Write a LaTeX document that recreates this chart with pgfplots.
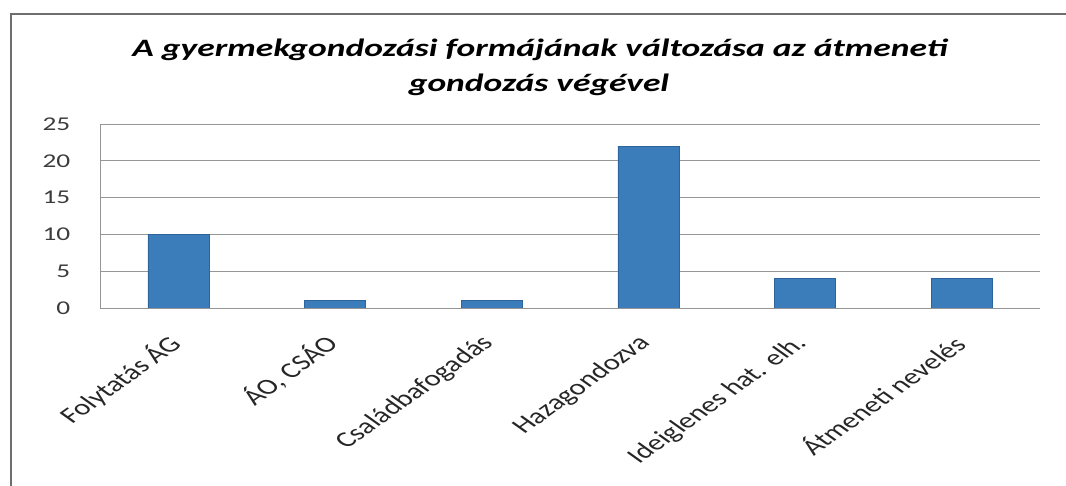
\documentclass[border=0pt]{standalone}
\usepackage{fontspec}
\setmainfont{Carlito}
\usepackage{pgfplots}
\pgfplotsset{compat=1.18}
\definecolor{barblue}{RGB}{58,125,186}
\definecolor{baredge}{RGB}{45,100,155}
\definecolor{gridgray}{RGB}{150,150,150}
\definecolor{framegray}{RGB}{110,110,110}
\definecolor{ticktext}{RGB}{60,60,60}
\begin{document}
\begin{tikzpicture}[x=1pt,y=1pt]
\path[use as bounding box] (0,0) rectangle (1066,486);
\draw[framegray, line width=1.3pt] (11,0) -- (11,472) -- (1066,472);
\node[anchor=base, xscale=1.42, font=\fontsize{25}{25}\selectfont\bfseries\itshape] at (540,429) {A gyermekgondozási formájának változása az átmeneti};
\node[anchor=base, xscale=1.42, font=\fontsize{25}{25}\selectfont\bfseries\itshape] at (539,394) {gondozás végével};
\begin{axis}[
  at={(100pt,178pt)}, anchor=south west,
  scale only axis, width=940pt, height=184pt,
  xmin=-0.5, xmax=5.5, ymin=0, ymax=25,
  ytick={0,5,10,15,20,25},
  xtick={0,1,2,3,4,5},
  xticklabels={Folytatás ÁG, {ÁO, CSÁO}, Családbafogadás, Hazagondozva, Ideiglenes hat. elh., Átmeneti nevelés},
  ymajorgrids,
  grid style={gridgray, line width=0.8pt},
  axis x line*=bottom, axis y line*=left,
  axis line style={gridgray, line width=0.9pt},
  major tick length=0pt,
  /pgf/number format/assume math mode=true,
  yticklabel style={font=\fontsize{19.5}{19.5}\selectfont, text=ticktext, xscale=1.4, anchor=east, inner sep=0pt, xshift=-21pt},
  xticklabel style={font=\fontsize{22}{22}\selectfont, text=black!85, cm={0.99,0.707,-0.99,0.707,(0,0)}, anchor=east, inner sep=0pt, xshift=-24.1pt, yshift=-21.2pt},
  ybar, bar width=61pt,
]
\addplot[fill=barblue, draw=baredge, line width=0.6pt] coordinates {(0,10) (1,1) (2,1) (3,22) (4,4) (5,4)};
\end{axis}
\end{tikzpicture}
\end{document}
